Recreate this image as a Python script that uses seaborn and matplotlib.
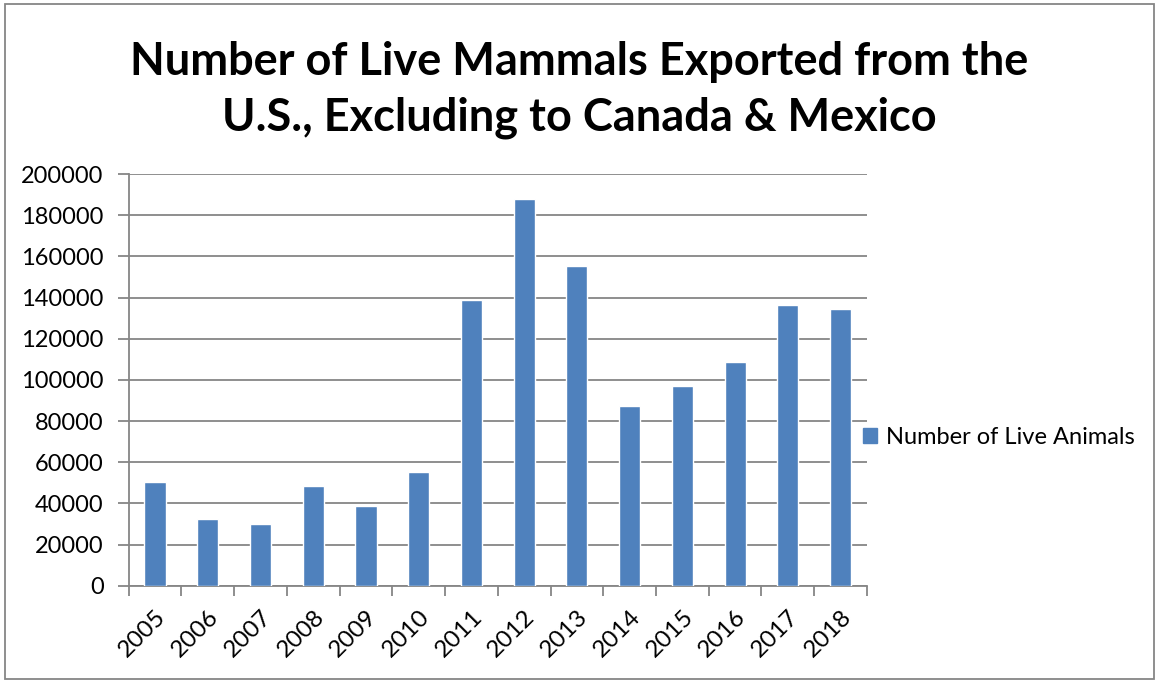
import numpy as np
import pandas as pd
import matplotlib.pyplot as plt
import matplotlib.patches as mpatches
import seaborn as sns

# Dados
anos = ['2005', '2006', '2007', '2008', '2009', '2010', '2011',
        '2012', '2013', '2014', '2015', '2016', '2017', '2018']
animais = [50300, 32400, 30100, 48600, 38700, 55100, 138900,
           187800, 155600, 87400, 97100, 108800, 136300, 134400]
serie = 'Number of Live Animals'

df = pd.DataFrame({'Ano': anos, serie: animais})

sns.set_style('white')
plt.rcParams['font.family'] = ['Lato', 'DejaVu Sans']
plt.rcParams['text.color'] = 'black'
plt.rcParams['xtick.labelcolor'] = 'black'
plt.rcParams['ytick.labelcolor'] = 'black'

cinza = '#868686'
azul = '#4F81BD'

fig = plt.figure(figsize=(11.59, 6.83), dpi=100)
ax = fig.add_axes([0.111, 0.1425, 0.637, 0.6025])

sns.barplot(data=df, x='Ano', y=serie, color=azul, width=0.4,
            saturation=1, ax=ax, zorder=3)

ax.set_xlim(-0.5, len(anos) - 0.5)
ax.set_ylim(0, 200000)
ax.set_yticks(np.arange(0, 200001, 20000))
ax.set_yticklabels([str(v) for v in range(0, 200001, 20000)], fontsize=17)
ax.yaxis.grid(True, color=cinza, linewidth=1.3, zorder=0)
ax.set_axisbelow(True)

# rotulos no centro, marcas nas fronteiras
ax.set_xticks(range(len(anos)))
ax.set_xticklabels(anos, rotation=45, ha='right', rotation_mode='anchor', fontsize=17.5)
ax.set_xticks(np.arange(-0.5, len(anos), 1), minor=True)
ax.tick_params(axis='x', which='major', length=0, pad=15)
ax.tick_params(axis='x', which='minor', length=7, width=1.3, color=cinza, direction='out')
ax.tick_params(axis='y', length=8, width=1.3, color=cinza, direction='out', pad=10)
ax.tick_params(bottom=True, left=True, which='both')

for lado in ['top', 'right']:
    ax.spines[lado].set_visible(False)
for lado in ['left', 'bottom']:
    ax.spines[lado].set_color(cinza)
    ax.spines[lado].set_linewidth(1.3)

ax.set_xlabel('')
ax.set_ylabel('')

fig.suptitle('Number of Live Mammals Exported from the\nU.S., Excluding to Canada & Mexico',
             x=0.5, y=0.94, fontsize=32.5, fontweight='bold', linespacing=1.4)

# Configuracao da legenda
leg = fig.legend(handles=[mpatches.Patch(color=azul, label=serie)],
                 loc='center left', bbox_to_anchor=(0.726, 0.36), frameon=False,
                 fontsize=17, handlelength=0.6, handleheight=0.6, handletextpad=0.4)

# moldura externa
fig.patches.append(mpatches.Rectangle((0.004, 0.006), 0.992, 0.988, transform=fig.transFigure,
                                      fill=False, edgecolor=cinza, linewidth=1.3))

fig.savefig('out.png', dpi=100)
